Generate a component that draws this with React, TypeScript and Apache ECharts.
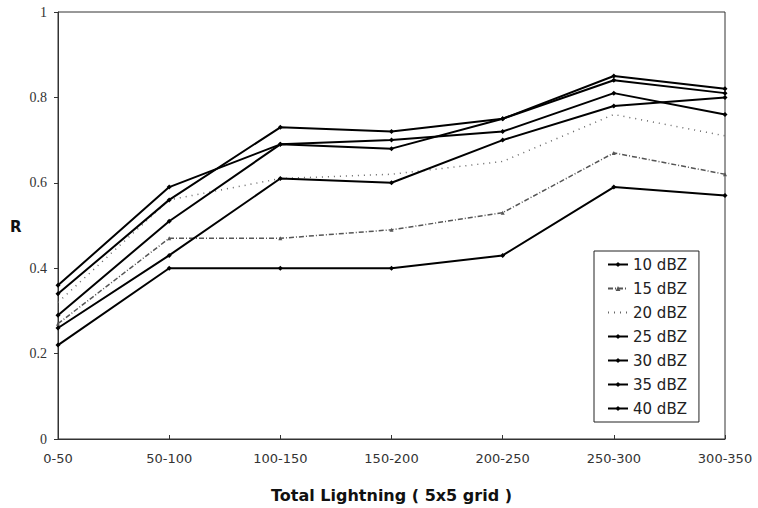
import React, { useEffect, useRef } from "react";
import * as echarts from "echarts";

const categories = ["0-50", "50-100", "100-150", "150-200", "200-250", "250-300", "300-350"];
const seriesNames = ["10 dBZ", "15 dBZ", "20 dBZ", "25 dBZ", "30 dBZ", "35 dBZ", "40 dBZ"];
const r10 = [0.22, 0.40, 0.40, 0.40, 0.43, 0.59, 0.57];
const r15 = [0.27, 0.47, 0.47, 0.49, 0.53, 0.67, 0.62];
const r20 = [0.32, 0.56, 0.61, 0.62, 0.65, 0.76, 0.71];
const r25 = [0.34, 0.56, 0.73, 0.72, 0.75, 0.85, 0.82];
const r30 = [0.36, 0.59, 0.69, 0.68, 0.75, 0.84, 0.81];
const r35 = [0.29, 0.51, 0.69, 0.70, 0.72, 0.81, 0.76];
const r40 = [0.26, 0.43, 0.61, 0.60, 0.70, 0.78, 0.80];
const yTicks = { min: 0, max: 1, interval: 0.2 };

const solid = (name: string, data: number[]) => ({
  type: "line",
  name,
  data,
  symbol: "diamond",
  symbolSize: 5,
  lineStyle: { color: "#000", width: 2, type: "solid" },
  itemStyle: { color: "#000" },
  emphasis: { disabled: true },
  z: 3,
});

export default function App() {
  const ref = useRef<HTMLDivElement>(null);
  useEffect(() => {
    if (!ref.current) return;
    const chart = echarts.init(ref.current, undefined, { renderer: "svg" });
    chart.setOption({
      animation: false,
      backgroundColor: "#fff",
      grid: { left: 58, right: 33, top: 12, bottom: 65, show: true, borderColor: "#333", borderWidth: 1 },
      xAxis: {
        type: "category",
        data: categories,
        boundaryGap: false,
        axisLine: { lineStyle: { color: "#333", width: 1 } },
        axisTick: { inside: true, length: 4, lineStyle: { color: "#333" } },
        axisLabel: { color: "#333", fontFamily: "DejaVu Sans", fontSize: 13, margin: 13 },
        name: "Total Lightning ( 5x5 grid )",
        nameLocation: "middle",
        nameGap: 48,
        nameTextStyle: { color: "#111", fontFamily: "DejaVu Sans", fontWeight: "bold", fontSize: 16 },
      },
      yAxis: {
        type: "value",
        min: yTicks.min,
        max: yTicks.max,
        interval: yTicks.interval,
        splitLine: { show: false },
        axisLine: { show: true, lineStyle: { color: "#333", width: 1 } },
        axisTick: { show: true, length: 4, lineStyle: { color: "#333" } },
        axisLabel: { color: "#333", fontFamily: "Liberation Serif", fontSize: 14, margin: 11 },
      },
      legend: {
        data: seriesNames.map((n, i) => (i === 2 ? { name: n, itemStyle: { opacity: 0 } } : { name: n })),
        orient: "vertical",
        left: 594,
        top: 251,
        padding: [6, 12, 6, 13],
        itemWidth: 20,
        itemHeight: 6,
        itemGap: 9,
        itemTextGap: 3,
        borderColor: "#222",
        borderWidth: 1,
        backgroundColor: "#fff",
        textStyle: { color: "#222", fontFamily: "DejaVu Sans", fontSize: 15 },
      },
      graphic: [
        {
          type: "text",
          left: 10,
          top: 219,
          style: { text: "R", fill: "#111", font: "bold 15px 'DejaVu Sans'" },
        },
      ],
      series: [
        solid(seriesNames[0], r10),
        {
          type: "line",
          name: seriesNames[1],
          data: r15,
          symbol: "triangle",
          symbolSize: 4,
          lineStyle: { color: "#555", width: 1.5, type: [5, 2, 1, 2] },
          itemStyle: { color: "#555" },
          emphasis: { disabled: true },
          z: 2,
        },
        {
          type: "line",
          name: seriesNames[2],
          data: r20,
          symbol: "none",
          lineStyle: { color: "#666", width: 1.5, type: [1, 5] },
          itemStyle: { color: "#666" },
          emphasis: { disabled: true },
          z: 2,
        },
        solid(seriesNames[3], r25),
        solid(seriesNames[4], r30),
        solid(seriesNames[5], r35),
        solid(seriesNames[6], r40),
      ],
    });
    return () => chart.dispose();
  }, []);
  return <div ref={ref} style={{ position: "fixed", left: 0, top: 0, width: 758, height: 508 }} />;
}
